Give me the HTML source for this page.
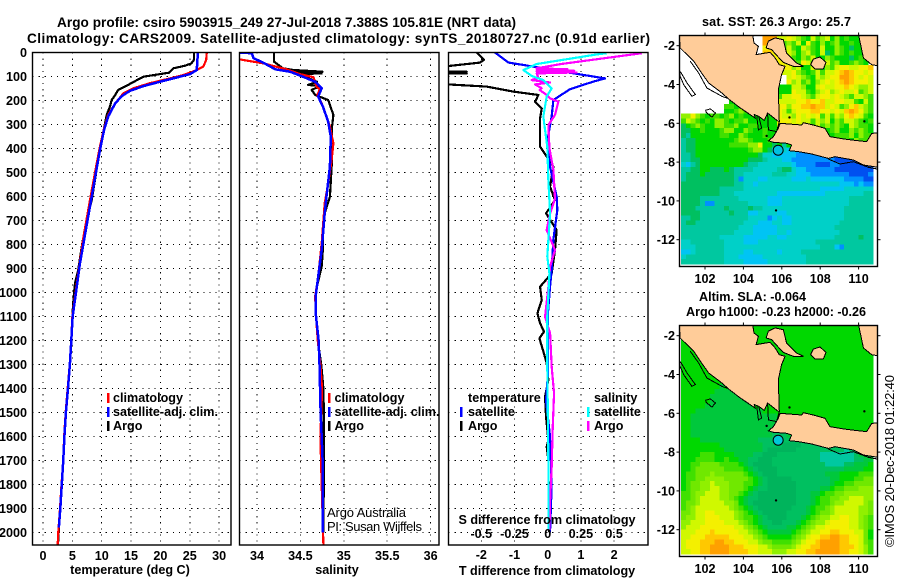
<!DOCTYPE html>
<html lang="en">
<head>
<meta charset="utf-8">
<title>Argo profile csiro 5903915_249</title>
<style>
html,body{margin:0;padding:0;background:#fff;}
svg{display:block;font-family:"Liberation Sans",sans-serif;}
text{fill:#000;}
.b{font-weight:bold;font-size:12.6px;}
.r{font-size:13px;}
</style>
</head>
<body>
<svg id="chart" xmlns="http://www.w3.org/2000/svg" width="900" height="580" viewBox="0 0 900 580">
<defs>
<clipPath id="clipT"><rect x="32.5" y="52.5" width="198.5" height="492.5"/></clipPath>
<clipPath id="clipS"><rect x="239.5" y="52.5" width="199.5" height="492.5"/></clipPath>
<clipPath id="clipD"><rect x="448.5" y="52.5" width="199.5" height="492.5"/></clipPath>
<clipPath id="clipM1"><rect x="679.5" y="35.5" width="198" height="231"/></clipPath>
<clipPath id="clipM2"><rect x="679.5" y="325.5" width="198" height="231"/></clipPath>
</defs>
<rect x="0" y="0" width="900" height="580" fill="#fff"/>
<text class="b" x="57" y="27" textLength="459" lengthAdjust="spacing" style="font-size:13.6px">Argo profile: csiro 5903915_249 27-Jul-2018 7.388S 105.81E (NRT data)</text>
<text class="b" x="27" y="43" textLength="623" lengthAdjust="spacing" style="font-size:13.6px">Climatology: CARS2009. Satellite-adjusted climatology: synTS_20180727.nc (0.91d earlier)</text>
<g id="layer"></g>
<g>
<rect x="107" y="393" width="2.5" height="10" fill="#f00"/>
<text class="b" x="113" y="402">climatology</text>
<rect x="107" y="407" width="2.5" height="10" fill="#00f"/>
<text class="b" x="113" y="416">satellite-adj. clim.</text>
<rect x="107" y="421" width="2.5" height="10" fill="#000"/>
<text class="b" x="113" y="430">Argo</text>
</g>
<g>
<rect x="328" y="393" width="2.5" height="10" fill="#f00"/>
<text class="b" x="334.5" y="402">climatology</text>
<rect x="328" y="407" width="2.5" height="10" fill="#00f"/>
<text class="b" x="334.5" y="416">satellite-adj. clim.</text>
<rect x="328" y="421" width="2.5" height="10" fill="#000"/>
<text class="b" x="334.5" y="430">Argo</text>
<text class="r" x="327" y="517" textLength="79" lengthAdjust="spacing">Argo Australia</text>
<text class="r" x="327" y="531" textLength="95" lengthAdjust="spacing">PI: Susan Wijffels</text>
</g>
<g>
<text class="b" x="468" y="402">temperature</text>
<rect x="460" y="407" width="2.5" height="10" fill="#00f"/>
<text class="b" x="468" y="416">satellite</text>
<rect x="460" y="421" width="2.5" height="10" fill="#000"/>
<text class="b" x="468" y="430">Argo</text>
<text class="b" x="594" y="402">salinity</text>
<rect x="587" y="407" width="2.5" height="10" fill="#0ff"/>
<text class="b" x="594" y="416">satellite</text>
<rect x="587" y="421" width="2.5" height="10" fill="#f0f"/>
<text class="b" x="594" y="430">Argo</text>
</g>
<text class="b" x="130" y="574" text-anchor="middle">temperature (deg C)</text>
<text class="b" x="337" y="574" text-anchor="middle">salinity</text>
<text class="b" x="547" y="575" text-anchor="middle">T difference from climatology</text>
<text class="b" x="547" y="524" text-anchor="middle">S difference from climatology</text>
<text class="b" x="702" y="26" textLength="149" lengthAdjust="spacing">sat. SST: 26.3 Argo: 25.7</text>
<text class="b" x="699" y="301" textLength="107" lengthAdjust="spacing">Altim. SLA: -0.064</text>
<text class="b" x="686" y="316" textLength="180" lengthAdjust="spacing">Argo h1000: -0.23 h2000: -0.26</text>
<text class="r" transform="translate(894,547) rotate(-90)" textLength="172" lengthAdjust="spacing">©IMOS 20-Dec-2018 01:22:40</text>
</svg>
<script>
/* ---------- axis tick data ---------- */
const depthTicks = [0,100,200,300,400,500,600,700,800,900,1000,1100,1200,1300,1400,1500,1600,1700,1800,1900,2000];
const tempTicks = [0,5,10,15,20,25,30];
const salTicks = ["34","34.5","35","35.5","36"];
const dTTicks = ["-2","-1","0","1","2"];
const dSTicks = ["-0.5","-0.25","0","0.25","0.5"];
const lonTicks = [102,104,106,108,110];
const latTicks = [-2,-4,-6,-8,-10,-12];

/* ---------- temperature profiles ---------- */
const argoTempDepth = [0,31,45,55,66,84,92,101,119,135,156,177,198,226,260,316,385,448,615,712,809,906,962,1024,1100,1200,1300,1400,1500,1600,1700,1800,1900,2000,2050];
const argoTemp = [25.7,25.7,25.3,24.2,22.2,21.5,19.4,17.1,15.7,14.5,12.8,12.3,11.7,11.4,10.85,10.4,9.8,9.4,8.3,7.3,6.6,6.0,5.45,5.2,5.0,4.8,4.55,4.2,3.86,3.6,3.45,3.2,2.95,2.67,2.55];
const climTempDepth = [0,31,59,76,94,108,128,149,170,212,260,316,392,462,615,768,920,1017,1100,1200,1300,1400,1500,1600,1700,1800,1900,2000,2050];
const climTemp = [27.9,27.8,27.3,25.9,23.9,21.6,18.2,15.4,13.7,12.3,11.1,10.4,9.7,9.15,8.0,6.9,6.0,5.45,5.0,4.8,4.55,4.2,3.86,3.6,3.45,3.15,2.9,2.6,2.5];
const satTempDepth = [0,31,73,90,104,122,140,160,182,212,267,323,406,517,628,753,878,1003,1100,1200,1300,1400,1500,1600,1700,1800,1900,1980];
const satTemp = [26.4,26.3,26.2,25.05,22.8,19.9,17.1,14.8,13.4,12.3,11.1,10.4,9.7,8.9,8.1,7.2,6.3,5.6,5.05,4.82,4.58,4.25,3.9,3.65,3.45,3.2,2.95,2.7];

/* ---------- salinity profiles ---------- */
const argoSalDepth = [0,38,66,73,80,84,87,90,98,122,135,140,156,177,198,260,323,392,476,601,670,740,816,892,976,1017,1100,1200,1300,1400,1500,1750,2000];
const argoSal = [34.196,34.196,34.30,34.42,34.756,34.42,34.745,34.495,34.53,34.69,34.59,34.725,34.63,34.67,34.82,34.88,34.86,34.87,34.86,34.84,34.78,34.76,34.76,34.745,34.69,34.67,34.68,34.70,34.74,34.765,34.77,34.77,34.765];
const climSalDepth = [28,45,70,90,103,145,153,177,212,260,309,378,448,545,628,795,934,1017,1100,1200,1300,1400,1600,1800,2050];
const climSal = [33.79,34.07,34.34,34.495,34.65,34.69,34.725,34.695,34.745,34.795,34.84,34.88,34.86,34.82,34.78,34.745,34.705,34.67,34.68,34.70,34.73,34.75,34.73,34.745,34.765];
const satSalDepth = [0,3,24,42,70,80,98,122,149,184,226,288,351,476,601,670,823,934,1017,1100,1200,1300,1500,1600,1700,2000];
const satSal = [33.79,33.94,33.96,34.07,34.21,34.38,34.51,34.67,34.745,34.705,34.76,34.82,34.85,34.84,34.80,34.78,34.745,34.705,34.675,34.68,34.71,34.72,34.733,34.745,34.756,34.756];

/* ---------- difference profiles ---------- */
const argoDTDepth = [0,31,42,56,66,80,80,84,87,87,92,133,142,163,177,205,233,274,392,476,559,615,670,740,823,920,976,1031,1087,1128,1163,1191,1246,1295,1364,1434,1517,1615,1642,1698,2000];
const argoDT = [-2.14,-1.92,-2.04,-2.96,-3.2,-3.2,-2.44,-3.2,-2.44,-3.2,-3.2,-3.0,-1.84,-1.03,-0.28,-0.38,-0.18,-0.23,-0.23,0.17,0.07,0.22,-0.05,0.27,0.22,0.12,-0.23,-0.18,-0.31,-0.23,-0.11,-0.25,-0.13,-0.03,0.02,-0.08,-0.05,0.02,-0.03,0.02,0.05];
const satDTDepth = [0,42,52,80,108,121,153,198,267,365,476,601,656,781,906,976,1100,1350,1450,1600,1800,2000];
const satDT = [-1.59,-1.18,-0.73,0.47,1.73,1.38,0.67,0.17,0.12,-0.01,0.07,0.27,0.29,0.17,0.12,0.07,0.0,0.0,-0.05,0.07,0.12,0.07];
const argoDSDepth = [3,48,66,70,73,76,80,83,87,105,115,125,133,149,156,177,191,205,260,302,399,490,610,670,740,823,892,976,1101,1170,1309,1420,1559,1726,1865,1990];
const argoDS = [0.708,0.1,-0.083,0.15,-0.083,0.2,-0.083,0.218,-0.083,-0.07,-0.12,0.018,-0.095,-0.045,-0.06,-0.008,0.018,0.08,0.055,0.005,0.013,0.043,0.055,0.018,-0.008,0.055,0.018,0.005,-0.02,0.018,0.03,0.048,0.038,0.03,0.018,0.013];
const satDSDepth = [3,8,48,73,98,115,149,184,267,392,531,670,851,920,1100,1309,1700,1990];
const satDS = [0.444,0.37,-0.083,-0.183,-0.12,-0.033,0.03,-0.008,-0.033,-0.003,0.005,0.018,-0.003,0.013,-0.003,-0.003,0.005,0.005];

/* ---------- map heat grids (one letter per 0.25 degree cell; '.' = no data) ---------- */
const cellColors = {a:"#0050f0",b:"#0090ff",c:"#00c4f4",d:"#00d0c8",e:"#00c8a0",f:"#00c060",g:"#00d800",h:"#40e000",i:"#90f000",j:"#d0f800",k:"#f4f000",l:"#ffc800",m:"#ffa000",n:"#00c83c",o:"#00b45c",p:"#70e800"};
const sstGrid = [
".................mmmjjkjihgjhijgighgggh.",
".................mmljhihjgkhgighigghggg.",
".................kkkjhjhgjihgjggihgfgggh",
".................llkkhjigijhgjfgihghgggh",
".................kkkkgjhgihjggihgggfghg.",
"..................kkkkjihkjhggjhigghihg.",
"....................kkkijggjhgihjkkjjkkl",
"....................jjjkihghjhjjklmlkkjk",
"......................jkjihgjijkkmmlkjkj",
"......................kijhigijkjklmlkkkj",
"....................gggjjiggjkjjkklkjiij",
"....................gggkjjhgijkijkjjkhij",
"....................hjjkkjihjkkjkjihjjih",
"..........gih.......jjjjkklkkljjkkjjhgjh",
".........hhghg......kkikkllmlljkjhikljih",
".........gghihgg....kjhjkkkllkkjkjlmlkih",
"iikihghhghighgggggggkjjikjkjkhjhjiklkjhg",
"hjihghgiihghhiggggggkkkjkjjhjijgihjjihgh",
"fghihggiihhigghhggggjjkkjjhhjhihihgjihhg",
"ffgghggghiiggihgghggggjjhhggggghiggihihg",
"fegggggghhggihggghgggghhgghhgggghhhigihh",
"effgggggggghiihggghggggghhgghhgggghgihhi",
"effggggggghhhhiikggfgegggggggggggggghggh",
"effggggggggggghiigfdcdcccccccccccccccccc",
"eefgggggggggggggfddcccccbbbbbbbbbbbbbbbb",
"eeffggggggggggfffedddccbbbbbbbbbaaaaaaaaa",
"dcefgggggggggfeedddddddcbbbbaaabbaaaaaaa",
"eeffggfffgfeeeedddddeffdccbbbbbbaaaaaaaa",
"efffgffffffeeddddddeeeddcccbbbbbbbbaaaab",
"effffffffffebdddccdddddcccdcccccccbbbbaa",
"fffffffffffeeddcdddddddddddddddddcccbcbb",
"ffffffffeeeeeddddddddddddddddcccccdddddd",
"ffffffffeeedddddddddccccccccccddddddddee",
"ffffeeeeeeeeddddddcccddddddddddddddeeeee",
"ffffebbeeeeeeeddddcccddddddddddddddeeeee",
"fffeeeeeefeeeefeedddddddddddddddddeeeeee",
"ffffeeeeeefeeeccddddccddddddddddddeeeeee",
"eeffeeeeeeeeeeddddbcdccdddddddddddeeeeee",
"effeeeeeeeeeedddcccddccddddddddddeeeeeee",
"eeeeeeeeeeeedddcccccddddddddddddeeeeeeee",
"eeeeeeeeeeeddddcccccddcddddddddddeeeeeee",
"eeeeeeeedddddcccccddccddddddddddeeeeefee",
"ddeeeeeeeddddcccddddddddddddeeeeeeeeeeee",
"dddeeeeeeddddddddddddddddddddeeecbeeeeee",
"ccdeeeeeeddddccdddddcddddeeeeeeeeeeeeeee",
"deeeeeeeedddcccccdddddddddeeeeeeeeeeeeee",
"eeeeeeeeeddddcccccddddddddeeeeeeeeeeeeee"
];
const slaGrid = [
"gggggggggggggggggggggggggggggggggggggggg",
"gggggggggggggggggggggggggggggggggggggggg",
"gggggggggggggggggggggggggggggggggggggggg",
"gggggggggggggggggggggggggggggggggggggggg",
"gggggggggggggggggggggggggggggggggggggggg",
"gggggggggggggggggggggggggggggggggggggggg",
"gggggggggggggggggggggggggggggggggggggggg",
"gggggggggggggggggggggggggggggggggggggggg",
"gggggggggggggggggggggggggggggggggggggggg",
"gggggggggggggggggggggggggggggggggggggggg",
"gggggggggggggggggggggggggggggggggggggggg",
"gggggggggggggggggggggggggggggggggggggggg",
"ggggggggnggggggggggggggggggggggggggggggg",
"gggggggnnnnggggggggggggggggggggggggggggg",
"ggggggnnnnnnnggggggggggggggggggggggggggg",
"ggggggnnnnnnnngggggggggggggggggggggggggg",
"gggggnnnnnnnnnnggggggggggggggggggggggggg",
"gggnnnnnnnnnnnnnnggggggggggggggggggggggg",
"ggnnnnnnnnnnnnnnnnnngggggggggggggggggggg",
"ggnnnnnnnnnnnnnnnnnnnggggggggggggggggggg",
"ggnnnnnnnnnnnnnnnnnnnngggggggggggggggggg",
"ggnnnnnnnnnnnnnnnnnnnnnggggggggggggggggg",
"ggnnnnnnnnnnnnnnnnnfffnnnnnggggggggggggg",
"ggggnnnnnnnnnnnnffffffffnnnnnnngggggggng",
"ggggggggnnnnnnnnnffffoooofffffnnnnnnnnnn",
"gggggggggnnnnnnnnfooooooffffffffffeffnnn",
"gggghhhggggnnnnffooofffffffffeeeeeeefnnn",
"ggghhhhgghggnnffoooffffffffffeeeeeeeffnn",
"gghhpppphhhhgnfoooofffffffffffeeeeffnnng",
"gghpppppphhhhgnfooooffffffffffffffnnnngg",
"ghhpppipppppphgnfoooffffffffffnnngggghhh",
"ghhppiiiippppphgnfoooooffffffffnnggghhpp",
"ghppiijiiippphhgnfoooooofffffffngghhpppp",
"ghppiijjiippphgnffoooooofffffnnghhpppiii",
"hhpiijjjiipphgnfoooooooofffnnghhppiiiiii",
"hhpijjjjiiphgnffoooooooofffnghhppiijjjii",
"hppijjjjjiipgnfooooooooofffnghhpiijjjjip",
"hpijjjjjjjiphgnfooooooofffnghhpijjjjjiip",
"ppijjkkjjjjiphgnfoooooffffnghppijjjjjiip",
"piijjkkkjjjiphhgnfoooofffnghpiijjkkjjiph",
"iijjjkkkkjjjiphgnffoofffnghpiijkkkkjjiph",
"ijjjkkkkkkkjjiphgnffffnnghpijjkkkkkjjiph",
"jjjkkklkkkkkjjiphgnnnnnghpijjkkllkkkjjpg",
"jjkkklllllkkkjjiphggggghpijkkllmmllkkjpg",
"jkkklllmmllkkkjjipphhhhpijkklmmmmllkkjph",
"jkkkllmmmmlllkkkjjippppijkkllmmmmlllkjih",
"jjkkllmmmmllllkkjjjiiijjkkllmmmmmllkkjih"
];

/* ---------- map geography as lon/lat ---------- */
const sumatraLon = [100.68,100.71,101.41,101.76,102.19,102.88,103.23,103.84,104.62,104.57,104.79,105.09,105.26,105.75,105.84,105.87,105.82,105.99,106.17,105.87,105.65,105.39,104.66,104.78,104.55,104.48,100.5];
const sumatraLat = [-1.78,-2.12,-2.8,-3.32,-3.92,-4.44,-4.75,-5.21,-5.73,-5.55,-5.64,-5.85,-5.47,-5.85,-5.9,-5.9,-4.27,-3.49,-3.06,-2.98,-2.63,-2.34,-2.46,-2.03,-1.86,-1.4,-1.4];
const bangkaLon = [105.18,105.3,105.65,106.08,106.25,106.77,107.12,106.6,106.08,105.7,105.47];
const bangkaLat = [-2.12,-1.77,-1.6,-1.69,-2.38,-2.89,-3.06,-3.06,-2.86,-2.46,-2.2];
const belitungLon = [107.64,107.99,108.3,108.16,107.73,107.5];
const belitungLat = [-2.69,-2.58,-2.86,-3.2,-3.2,-2.98];
const borneoLon = [109.99,110.16,110.25,110.68,111.2,111.2,109.99];
const borneoLat = [-1.4,-2.2,-2.63,-2.98,-3.06,-1.4,-1.4];
const javaLon = [105.91,106.43,107.04,107.12,107.64,108.25,108.51,109.38,110.42,110.68,111.2,111.2,110.25,109.73,108.77,108.42,107.56,106.86,106.39,106.51,106.25,105.56,105.3,105.56,105.82];
const javaLat = [-6.0,-6.04,-6.09,-5.97,-6.09,-6.26,-6.69,-6.83,-6.95,-6.52,-6.48,-8.3,-8.15,-7.89,-7.72,-7.81,-7.58,-7.46,-7.41,-7.12,-7.03,-6.98,-6.9,-6.69,-6.26];
const contourSouthLon = [108.42,109.03,109.73,110.51,111.2];
const contourSouthLat = [-7.84,-8.1,-7.98,-8.27,-8.4];
const contourWestLon = [101.23,101.67,102.1,102.88,103.14];
const contourWestLat = [-2.8,-3.41,-4.18,-4.61,-4.7];
const pagaiLon = [100.71,101.06,101.5,101.32,100.89,100.71];
const pagaiLat = [-3.32,-3.92,-4.52,-4.61,-4.01,-3.58];
const enggLon = [102.02,102.28,102.54,102.36,102.07];
const enggLat = [-5.33,-5.26,-5.47,-5.68,-5.44];
const bayALon = [104.7,104.78,104.95,104.8];
const bayALat = [-5.65,-6.34,-6.25,-5.65];
const bayBLon = [105.26,105.3,105.73,105.87];
const bayBLat = [-5.47,-6.34,-6.43,-5.91];
const floatLon = 105.81;
const floatLat = -7.388;
const smallIslandLon = [105.7,105.21,110.3,106.4];
const smallIslandLat = [-10.49,-6.65,-5.9,-5.7];

/* ---------- axis functions ---------- */
const yDepth = d => 52.5 + d * 0.24;
const xTemp = t => 43 + t * 5.87;
const xSal = s => 257 + (s - 34) * 86.8;
const xDT = t => 547.7 + t * 33.2;
const xDS = s => 547.7 + s * 4 * 33.2;
const xLon = lon => 705 + (lon - 102) * 19.2;
const yLat1 = lat => 45.7 + (-2 - lat) * 19.4;
const yLat2 = lat => 335.7 + (-2 - lat) * 19.4;

const NS = "http://www.w3.org/2000/svg";
const layer = document.getElementById("layer");
function mk(tag, parent) {
  const el = document.createElementNS(NS, tag);
  parent.appendChild(el);
  return el;
}
function label(parent, txt, x, y, anchor, nm) {
  const t = mk("text", parent);
  
  
  t.setAttribute("class", "b");
  t.setAttribute("x", x);
  t.setAttribute("y", y);
  t.setAttribute("text-anchor", anchor);
  t.textContent = txt;
  return t;
}
function dotted(parent, x1, y1, x2, y2) {
  const l = mk("line", parent);
  
  
  l.setAttribute("x1", x1); l.setAttribute("y1", y1);
  l.setAttribute("x2", x2); l.setAttribute("y2", y2);
  l.setAttribute("stroke", "#000");
  l.setAttribute("stroke-width", "1");
  l.setAttribute("stroke-dasharray", "1.2 4.9");
  l.setAttribute("shape-rendering", "crispEdges");
}
function profile(parent, xs, ds, xf, color, clip, nm, w) {
  const p = mk("polyline", parent);
  
  
  p.setAttribute("points", xs.map((v, i) => xf(v).toFixed(2) + "," + yDepth(ds[i]).toFixed(2)).join(" "));
  p.setAttribute("fill", "none");
  p.setAttribute("stroke", color);
  p.setAttribute("stroke-width", w || 2.2);
  p.setAttribute("stroke-linejoin", "round");
  p.setAttribute("shape-rendering", "crispEdges");
  p.setAttribute("clip-path", "url(#" + clip + ")");
}
function frame(parent, x, y, w, h, nm) {
  const r = mk("rect", parent);
  
  
  r.setAttribute("x", x); r.setAttribute("y", y);
  r.setAttribute("width", w); r.setAttribute("height", h);
  r.setAttribute("fill", "none");
  r.setAttribute("stroke", "#000");
  r.setAttribute("stroke-width", "1.4");
}
function panelGrid(parent, left, right, xVals) {
  depthTicks.forEach(d => { if (d > 0) dotted(parent, left, yDepth(d), right, yDepth(d)); });
  xVals.forEach(x => dotted(parent, x, 52.5, x, 545));
}

/* temperature panel */
const gT = mk("g", layer);


panelGrid(gT, 32.5, 231, tempTicks.map(xTemp));
profile(gT, argoTemp, argoTempDepth, xTemp, "#000", "clipT", "argo-temperature-line");
profile(gT, climTemp, climTempDepth, xTemp, "#f00", "clipT", "climatology-temperature-line");
profile(gT, satTemp, satTempDepth, xTemp, "#00f", "clipT", "satellite-temperature-line", 2.5);
frame(gT, 32.5, 52.5, 198.5, 492.5, "temperature-panel-frame");
depthTicks.forEach(d => label(gT, String(d), 27, yDepth(d) + 4.5, "end", "depth-tick-label"));
tempTicks.forEach(t => label(gT, String(t), xTemp(t), 560, "middle", "temperature-tick-label"));

/* salinity panel */
const gS = mk("g", layer);


panelGrid(gS, 239.5, 439, salTicks.map(s => xSal(parseFloat(s))));
profile(gS, argoSal, argoSalDepth, xSal, "#000", "clipS", "argo-salinity-line");
profile(gS, climSal, climSalDepth, xSal, "#f00", "clipS", "climatology-salinity-line");
profile(gS, satSal, satSalDepth, xSal, "#00f", "clipS", "satellite-salinity-line", 2.5);
frame(gS, 239.5, 52.5, 199.5, 492.5, "salinity-panel-frame");
salTicks.forEach(s => label(gS, s, xSal(parseFloat(s)), 560, "middle", "salinity-tick-label"));

/* difference panel */
const gD = mk("g", layer);


panelGrid(gD, 448.5, 648, dTTicks.filter(t => t !== "0").map(t => xDT(parseFloat(t))));
profile(gD, argoDT, argoDTDepth, xDT, "#000", "clipD", "argo-t-difference-line");
profile(gD, satDT, satDTDepth, xDT, "#00f", "clipD", "satellite-t-difference-line");
profile(gD, argoDS, argoDSDepth, xDS, "#f0f", "clipD", "argo-s-difference-line");
profile(gD, satDS, satDSDepth, xDS, "#0ff", "clipD", "satellite-s-difference-line");
frame(gD, 448.5, 52.5, 199.5, 492.5, "difference-panel-frame");
dTTicks.forEach(t => label(gD, t, xDT(parseFloat(t)), 559, "middle", "t-difference-tick-label"));
dSTicks.forEach(s => label(gD, s, xDS(parseFloat(s)), 538, "middle", "s-difference-tick-label"));

/* maps */
function geoPath(parent, lons, lats, yf, fill, closed, nm, clip) {
  const p = mk("polyline", parent);
  
  
  const pts = lons.map((v, i) => xLon(v).toFixed(1) + "," + yf(lats[i]).toFixed(1));
  if (closed) pts.push(pts[0]);
  p.setAttribute("points", pts.join(" "));
  p.setAttribute("fill", fill);
  p.setAttribute("stroke", "#000");
  p.setAttribute("stroke-width", "1");
  p.setAttribute("shape-rendering", "crispEdges");
  p.setAttribute("clip-path", "url(#" + clip + ")");
}
function drawMap(grid, yf, top, clip, floatColor, nm) {
  const g = mk("g", layer);
  
  
  const cells = mk("g", g);
  
  
  cells.setAttribute("clip-path", "url(#" + clip + ")");
  cells.setAttribute("shape-rendering", "crispEdges");
  grid.forEach((row, j) => {
    for (let i = 0; i < 40; i++) {
      const ch = row[i] || row[row.length - 1];
      if (ch === ".") continue;
      const lon = 100.75 + i * 0.25;
      const lat = -1.5 - j * 0.25;
      const r = mk("rect", cells);
      
      
      r.setAttribute("x", xLon(lon).toFixed(2));
      r.setAttribute("y", yf(lat).toFixed(2));
      r.setAttribute("width", "5.2");
      r.setAttribute("height", "5.2");
      r.setAttribute("fill", cellColors[ch]);
    }
  });
  const land = "#ffcc99";
  geoPath(g, sumatraLon, sumatraLat, yf, land, true, "land-sumatra", clip);
  geoPath(g, bangkaLon, bangkaLat, yf, land, true, "land-bangka", clip);
  geoPath(g, belitungLon, belitungLat, yf, land, true, "land-belitung", clip);
  geoPath(g, borneoLon, borneoLat, yf, land, true, "land-borneo", clip);
  geoPath(g, javaLon, javaLat, yf, land, true, "land-java", clip);
  geoPath(g, contourSouthLon, contourSouthLat, yf, "none", false, "isobath-south-java", clip);
  geoPath(g, contourWestLon, contourWestLat, yf, "none", false, "isobath-west-sumatra", clip);
  geoPath(g, pagaiLon, pagaiLat, yf, "none", true, "island-pagai", clip);
  geoPath(g, enggLon, enggLat, yf, "none", true, "island-enggano", clip);
  geoPath(g, bayALon, bayALat, yf, "none", false, "bay-outline-a", clip);
  geoPath(g, bayBLon, bayBLat, yf, "none", false, "bay-outline-b", clip);
  smallIslandLon.forEach((lon, i) => {
    const c = mk("circle", g);
    
    
    c.setAttribute("cx", xLon(lon));
    c.setAttribute("cy", yf(smallIslandLat[i]));
    c.setAttribute("r", "1.2");
    c.setAttribute("fill", "#000");
    c.setAttribute("clip-path", "url(#" + clip + ")");
  });
  const fl = mk("circle", g);
  
  
  fl.setAttribute("cx", xLon(floatLon));
  fl.setAttribute("cy", yf(floatLat));
  fl.setAttribute("r", "5");
  fl.setAttribute("fill", floatColor);
  fl.setAttribute("stroke", "#000");
  fl.setAttribute("stroke-width", "1");
  frame(g, 679.5, top, 198, 231, nm + "-frame");
  lonTicks.forEach(lon => {
    [[top - 3, top], [top + 231, top + 234]].forEach(s => {
      const t = mk("line", g);
      
      
      t.setAttribute("x1", xLon(lon)); t.setAttribute("x2", xLon(lon));
      t.setAttribute("y1", s[0]); t.setAttribute("y2", s[1]);
      t.setAttribute("stroke", "#000");
    });
    label(g, String(lon), xLon(lon), top + 247.5, "middle", "longitude-tick-label");
  });
  latTicks.forEach(lat => {
    [[676.5, 679.5], [877.5, 880.5]].forEach(s => {
      const t = mk("line", g);
      
      
      t.setAttribute("x1", s[0]); t.setAttribute("x2", s[1]);
      t.setAttribute("y1", yf(lat)); t.setAttribute("y2", yf(lat));
      t.setAttribute("stroke", "#000");
    });
    label(g, String(lat), 675, yf(lat) + 4.5, "end", "latitude-tick-label");
  });
}
drawMap(sstGrid, yLat1, 35.5, "clipM1", "#00c0e0", "sst-map");
drawMap(slaGrid, yLat2, 325.5, "clipM2", "#00c8d8", "sla-map");
</script>
</body>
</html>
